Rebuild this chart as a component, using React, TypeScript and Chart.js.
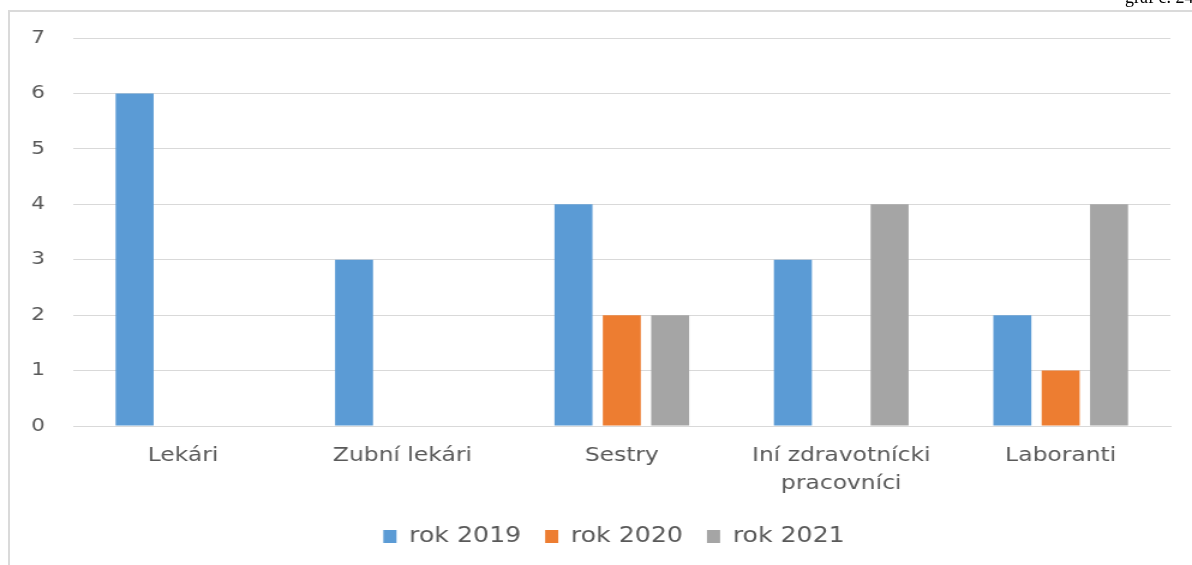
import React, { useEffect, useRef } from "react";
import { Chart, registerables } from "chart.js";

Chart.register(...registerables);

const categories: (string | string[])[] = [
  "Lekári",
  "Zubní lekári",
  "Sestry",
  ["Iní zdravotnícki", "pracovníci"],
  "Laboranti",
];
const rok2019 = [6, 3, 4, 3, 2];
const rok2020 = [0, 0, 2, 0, 1];
const rok2021 = [0, 0, 2, 4, 4];
const seriesNames = ["rok 2019", "rok 2020", "rok 2021"];
const yMin = 0;
const yMax = 7;
const yStep = 1;

const STRETCH = 1.2;
const PAGE_W = 1192;
const PAGE_H = 565;
const INNER_W = Math.round(PAGE_W / STRETCH);

export default function App() {
  const ref = useRef<HTMLCanvasElement | null>(null);

  useEffect(() => {
    if (!ref.current) return;
    const font = "'DejaVu Sans', sans-serif";
    const chart = new Chart(ref.current, {
      type: "bar",
      data: {
        labels: categories,
        datasets: [
          { label: seriesNames[0], data: rok2019, backgroundColor: "#5B9BD5" },
          { label: seriesNames[1], data: rok2020, backgroundColor: "#ED7D31" },
          { label: seriesNames[2], data: rok2021, backgroundColor: "#A5A5A5" },
        ],
      },
      options: {
        responsive: false,
        animation: false,
        devicePixelRatio: 1,
        layout: { padding: { top: 38, left: 48, right: 18, bottom: 8 } },
        datasets: {
          bar: { categoryPercentage: 0.661, barPercentage: 0.786 },
        },
        plugins: {
          tooltip: { enabled: false },
          legend: {
            position: "bottom",
            labels: {
              boxWidth: 11,
              boxHeight: 13,
              padding: 20,
              color: "#595959",
              font: { family: font, size: 21 },
            },
          },
        },
        scales: {
          x: {
            grid: { display: false, drawTicks: false },
            border: { display: true, color: "#D9D9D9" },
            ticks: {
              color: "#595959",
              font: { family: font, size: 19.5, lineHeight: 1.436 },
              padding: 16,
              maxRotation: 0,
              autoSkip: false,
            },
            afterFit: (s: any) => {
              s.height = 80;
            },
          },
          y: {
            min: yMin,
            max: yMax,
            grid: { color: "#D9D9D9", drawTicks: false, lineWidth: 1 },
            border: { display: false },
            ticks: {
              stepSize: yStep,
              color: "#595959",
              font: { family: font, size: 18 },
              mirror: true,
              padding: -35,
            },
            afterFit: (s: any) => {
              s.width = 13;
            },
          },
        },
      },
    });
    return () => chart.destroy();
  }, []);

  return (
    <div
      style={{
        position: "fixed",
        left: 0,
        top: 0,
        width: PAGE_W,
        height: PAGE_H,
        overflow: "hidden",
        background: "#fff",
      }}
    >
      <canvas
        ref={ref}
        width={INNER_W}
        height={PAGE_H}
        style={{
          position: "absolute",
          left: 0,
          top: 0,
          width: PAGE_W + "px",
          height: PAGE_H + "px",
        }}
      />
      <div
        style={{
          position: "absolute",
          left: 8,
          top: 10,
          right: 0,
          bottom: 0,
          borderTop: "2px solid #DADADA",
          borderLeft: "2px solid #DADADA",
          pointerEvents: "none",
        }}
      />
      <div
        style={{
          position: "absolute",
          left: 1125,
          top: -12,
          fontFamily: "'Liberation Serif', serif",
          fontSize: 18,
          lineHeight: "18px",
          whiteSpace: "nowrap",
          color: "#000",
        }}
      >
        graf č. 24
      </div>
    </div>
  );
}
